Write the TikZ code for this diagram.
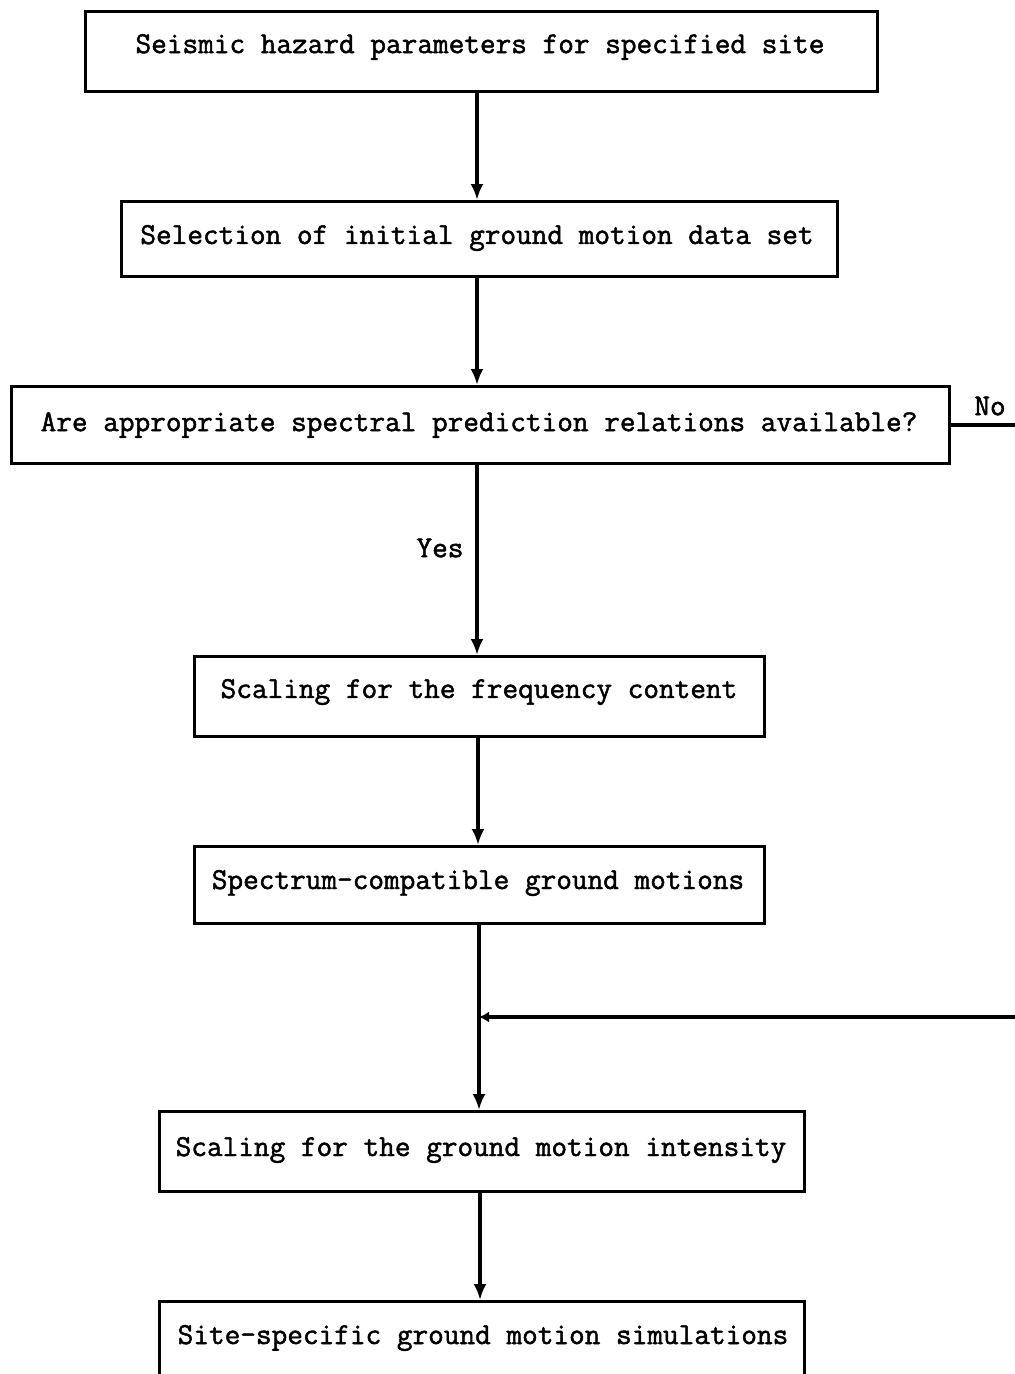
\documentclass[tikz,border=0pt]{standalone}
\usepackage{fontspec}
\newfontfamily\boxfont{Latin Modern Mono}[FakeBold=1.6]
\usetikzlibrary{arrows.meta}
\begin{document}
\begin{tikzpicture}[x=1pt,y=-1pt,
  box/.style={draw,line width=3.2pt,rectangle,inner sep=0pt,anchor=north west},
  lbl/.style={font=\boxfont\fontsize{30.4}{33}\selectfont,inner sep=0pt},
  link/.style={line width=3.2pt,-{Latex[length=16pt,width=13pt]}},
  plain/.style={line width=3.2pt}]
\useasboundingbox (0,0) rectangle (1015,1374);
\clip (0,0) rectangle (1015,1374);
% boxes
\node[box,minimum width=792pt,minimum height=80pt] (b1) at (84,10) {};
\node[box,minimum width=716pt,minimum height=75pt] (b2) at (120,200) {};
\node[box,minimum width=938pt,minimum height=77pt] (b3) at (10,385) {};
\node[box,minimum width=570pt,minimum height=80pt] (b4) at (193,655) {};
\node[box,minimum width=570pt,minimum height=77pt] (b5) at (193,845) {};
\node[box,minimum width=645pt,minimum height=80pt] (b6) at (158,1110) {};
\node[box,minimum width=645pt,minimum height=120pt] (b7) at (158,1300) {};
% texts
\node[lbl] (t1) at (480,47) {Seismic hazard parameters for specified site};
\node[lbl] (t2) at (477,238) {Selection of initial ground motion data set};
\node[lbl] (t3) at (479,425) {Are appropriate spectral prediction relations available?};
\node[lbl] (t4) at (479,692) {Scaling for the frequency content};
\node[lbl] (t5) at (478,883) {Spectrum-compatible ground motions};
\node[lbl] (t6) at (481,1150) {Scaling for the ground motion intensity};
\node[lbl] (t7) at (483,1338) {Site-specific ground motion simulations};
\node[lbl] (yes) at (440,548) {Yes};
\node[lbl] (no) at (990,406) {No};
% connectors
\draw[link] (b1.south -| 477,0) -- (b2.north -| 477,0);
\draw[link] (b2.south -| 477,0) -- (b3.north -| 477,0);
\draw[link] (b3.south -| 477,0) -- (b4.north -| 477,0);
\draw[link] (b4.south -| 478,0) -- (b5.north -| 478,0);
\coordinate (j) at (479,1017);
\coordinate (noend) at (1030,425);
\coordinate (retstart) at (1030,1017);
\draw[link] (b5.south -| 479,0) -- (b6.north -| 479,0);
\draw[plain] (b3.east |- noend) -- (noend);
\draw[line width=3.2pt,-{Latex[length=10pt,width=11pt]}] (retstart) -- (j);
\draw[link] (b6.south -| 480,0) -- (b7.north -| 480,0);
\end{tikzpicture}
\end{document}
